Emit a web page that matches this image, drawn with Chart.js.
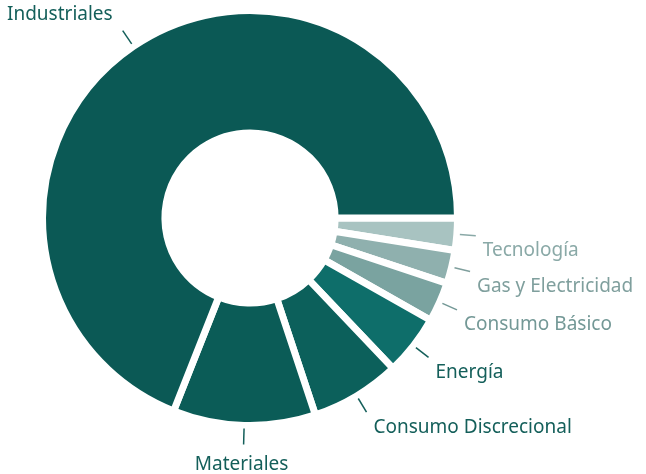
<!DOCTYPE html>
<html>
<head>
<meta charset="utf-8">
<script src="https://cdn.jsdelivr.net/npm/chart.js@4.4.1/dist/chart.umd.min.js"></script>
<style>
  html, body { margin: 0; padding: 0; background: #fff; }
  #wrap { width: 646px; height: 474px; position: relative; }
</style>
</head>
<body>
<div id="wrap"><canvas id="sectorChart"></canvas></div>
<script>
// sector weights (%), clockwise from 3 o'clock
const sectors = ['Tecnología', 'Gas y Electricidad', 'Consumo Básico', 'Energía', 'Consumo Discrecional', 'Materiales', 'Industriales'];
const weights = [2.5, 2.6, 3.1, 4.7, 7.0, 11.1, 69.0];
const sliceColors = ['#a8c3c1', '#8fb0ae', '#7aa3a0', '#0e6e6a', '#0c605b', '#0b5c57', '#0b5955'];
const labelColors = ['#8aa9a7', '#7f9f9d', '#739896', '#145f5a', '#145f5a', '#145f5a', '#145f5a'];

// outside labels with short leader lines
const outsideLabels = {
  id: 'outsideLabels',
  afterDatasetsDraw(chart) {
    const ctx = chart.ctx;
    const arcs = chart.getDatasetMeta(0).data;
    ctx.save();
    ctx.font = '19px "Noto Sans", "Open Sans", sans-serif';
    ctx.textBaseline = 'middle';
    arcs.forEach((arc, i) => {
      const p = arc.getProps(['x', 'y', 'startAngle', 'endAngle', 'outerRadius'], true);
      const mid = (p.startAngle + p.endAngle) / 2;
      const cos = Math.cos(mid), sin = Math.sin(mid);
      const r1 = p.outerRadius + 3, r2 = p.outerRadius + 19;
      const sx = p.x + cos * r1, sy = p.y + sin * r1;
      const ex = p.x + cos * r2, ey = p.y + sin * r2;

      ctx.strokeStyle = labelColors[i];
      ctx.lineWidth = 1.5;
      ctx.beginPath();
      ctx.moveTo(sx, sy);
      ctx.lineTo(ex, ey);
      ctx.stroke();

      ctx.fillStyle = labelColors[i];
      let tx, ty;
      if (Math.abs(cos) < 0.3) {
        ctx.textAlign = 'center';
        tx = ex - 2; ty = ey + 20;
      } else if (cos > 0) {
        ctx.textAlign = 'left';
        tx = ex + 7; ty = ey + 15;
      } else {
        ctx.textAlign = 'right';
        tx = ex - 10; ty = ey - 16;
      }
      ctx.fillText(sectors[i], tx, ty);
    });
    ctx.restore();
  }
};

new Chart(document.getElementById('sectorChart'), {
  type: 'doughnut',
  data: {
    labels: sectors,
    datasets: [{
      data: weights,
      backgroundColor: sliceColors,
      borderColor: '#ffffff',
      borderWidth: 7,
      borderJoinStyle: 'bevel',
      hoverOffset: 0
    }]
  },
  options: {
    responsive: true,
    maintainAspectRatio: false,
    animation: false,
    rotation: 90,
    cutout: '41%',
    layout: {
      padding: { left: 39, right: 185, top: 6, bottom: 44 }
    },
    plugins: {
      legend: { display: false },
      tooltip: { enabled: false }
    }
  },
  plugins: [outsideLabels]
});
</script>
</body>
</html>
